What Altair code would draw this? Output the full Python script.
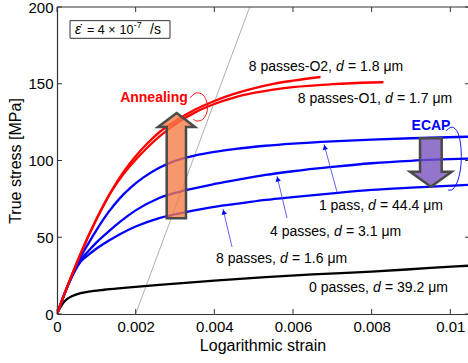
import altair as alt
import pandas as pd

FONT = "Liberation Sans"

# ---- stress-strain curves: logarithmic strain vs true stress [MPa] ----
STRAIN_0P = [0, 0.0001, 0.0002, 0.0003, 0.0005, 0.0008, 0.0012, 0.0017, 0.0026,
             0.004, 0.0053, 0.0065, 0.008, 0.0095, 0.0105]
STRESS_0P = [0, 5, 8.5, 10.5, 12.8, 14.5, 15.8, 17, 19,
             21.7, 24, 25.8, 27.6, 30, 31.5]

STRAIN_8P = [0, 0.0003, 0.0006, 0.0008, 0.001, 0.0013, 0.0016, 0.002, 0.0026,
             0.0033, 0.004, 0.0047, 0.0053, 0.006, 0.007, 0.008, 0.009, 0.0105]
STRESS_8P = [0, 20, 34, 38.5, 42.5, 47.5, 52, 57, 62.5,
             66.5, 69.8, 72.2, 74.3, 76.2, 78.6, 80.8, 82.3, 84.2]

STRAIN_4P = [0, 0.0003, 0.0006, 0.0008, 0.001, 0.0013, 0.0016, 0.002, 0.0026,
             0.0033, 0.004, 0.0047, 0.0053, 0.006, 0.007, 0.008, 0.009, 0.0105]
STRESS_4P = [0, 20, 35, 41, 46.5, 53.5, 60, 67.5, 75.6,
             80.8, 84.7, 88, 90.6, 93, 95.8, 98.2, 99.8, 101.2]

STRAIN_1P = [0, 0.0003, 0.0006, 0.0008, 0.001, 0.0013, 0.0016, 0.0019, 0.0022,
             0.0026, 0.003, 0.0035, 0.004, 0.0045, 0.0053, 0.006, 0.007, 0.008,
             0.009, 0.0105]
STRESS_1P = [0, 20, 37, 46, 54.5, 66, 75.5, 83, 89,
             95.3, 99.8, 103.2, 105.6, 107.4, 109.6, 111, 112.5, 113.6,
             114.5, 115.5]

STRAIN_O1 = [0, 0.0003, 0.0006, 0.001, 0.0014, 0.0017, 0.002, 0.0023, 0.0026,
             0.003, 0.0035, 0.004, 0.0045, 0.005, 0.0055, 0.006, 0.007, 0.008, 0.0083]
STRESS_O1 = [0, 20.4, 39.3, 61.5, 80.5, 91.5, 100.5, 108.5, 115.5,
             123.5, 131.2, 136.8, 141, 144, 146.2, 147.8, 149.7, 150.8, 151]

STRAIN_O2 = [0, 0.0003, 0.0006, 0.001, 0.0014, 0.0017, 0.002, 0.0023, 0.0026,
             0.003, 0.0035, 0.004, 0.0045, 0.005, 0.0055, 0.006, 0.0067]
STRESS_O2 = [0, 20.4, 39.3, 61.7, 80.9, 92.9, 102.8, 111.2, 118.4,
             125.5, 133, 138.8, 143.4, 147, 149.9, 152, 154.4]

SERIES_NAMES = ["0 passes", "8 passes", "4 passes", "1 pass",
                "8 passes-O1", "8 passes-O2"]
SERIES_COLORS = ["#000000", "#0000ff", "#0000ff", "#0000ff", "#ff0000", "#ff0000"]
SERIES_DATA = [(STRAIN_0P, STRESS_0P), (STRAIN_8P, STRESS_8P),
               (STRAIN_4P, STRESS_4P), (STRAIN_1P, STRESS_1P),
               (STRAIN_O1, STRESS_O1), (STRAIN_O2, STRESS_O2)]

# ---- curve labels, split around the italic "d" ----
LABEL_PREFIX = ["8 passes-O2,", "8 passes-O1,", "1 pass,", "4 passes,",
                "8 passes,", "0 passes,"]
LABEL_SUFFIX = ["= 1.8 μm", "= 1.7 μm", "= 44.4 μm", "= 3.1 μm",
                "= 1.6 μm", "= 39.2 μm"]
LABEL_X = [0.007094, 0.00834, 0.007908, 0.007043, 0.00567, 0.008035]
LABEL_Y = [160.6, 140.1, 70.4, 53.1, 35.8, 16.9]

# pointer lines from the labels to the ECAP curves
PTR_TIP_X = [0.006789, 0.005594, 0.004221]
PTR_TIP_Y = [110.7, 89.9, 68.4]
PTR_TAIL_X = [0.007119, 0.005848, 0.00445]
PTR_TAIL_Y = [79.5, 62.5, 43.6]
PTR_HEAD_X = [0.006809, 0.005611, 0.004239]
PTR_HEAD_Y = [108.6, 87.9, 66.4]

# loops grouping the annealed and the ECAP curves
ANNEAL_LOOP_X = [0.003382, 0.003534, 0.003712, 0.003814, 0.003814, 0.003712, 0.00356, 0.003458]
ANNEAL_LOOP_Y = [140.7, 144.0, 142.7, 137.5, 131.6, 127.0, 125.7, 127.0]
ECAP_LOOP_X = [0.009891, 0.010043, 0.010196, 0.010272, 0.010272, 0.010196, 0.010069, 0.009942]
ECAP_LOOP_Y = [119.2, 121.8, 117.9, 108.1, 97.1, 87.3, 81.4, 80.8]

# block arrows (rows of y with left/right x extents)
ANNEAL_ARROW_Y = [62.3, 121.8, 121.81, 130.9]
ANNEAL_ARROW_XL = [0.002789, 0.002789, 0.002568, 0.003043]
ANNEAL_ARROW_XR = [0.00328, 0.00328, 0.003509, 0.003043]
ECAP_ARROW_Y = [82.9, 92.7, 92.71, 114.5]
ECAP_ARROW_XL = [0.009509, 0.008975, 0.00923, 0.00923]
ECAP_ARROW_XR = [0.009509, 0.010036, 0.009781, 0.009781]

# 0.2 % offset line
OFFSET_X = [0.002, 0.0049]
OFFSET_Y = [0, 200]

# strain-rate note: pieces, their left edges and sizes
RATE_TEXT = ["= 4 ×", "10", "-7", "/s"]
RATE_X = [0.000763, 0.00159, 0.00195, 0.002365]
RATE_SIZE = [12.5, 12.5, 9, 14]
RATE_DY = [0, 0, -5, 0]
RATE_Y = 185.3
RATE_BOX_X = [0.000331, 0.002873]
RATE_BOX_Y = [191.1, 179.6]

X_TICKS = [0, 0.002, 0.004, 0.006, 0.008, 0.01]
Y_TICKS = [0, 50, 100, 150, 200]
X_MAX = 0.01045
Y_MAX = 200

W, H = 411, 307

xs = alt.Scale(domain=[0, X_MAX], nice=False, zero=False)
ys = alt.Scale(domain=[0, Y_MAX], nice=False, zero=False)

rows = []
for name, (sx, sy) in zip(SERIES_NAMES, SERIES_DATA):
    for i, (a, b) in enumerate(zip(sx, sy)):
        rows.append({"series": name, "strain": a, "stress": b, "i": i})
curves_df = pd.DataFrame(rows)

x_axis = alt.Axis(values=X_TICKS, format="~g", title="Logarithmic strain",
                  ticks=False, grid=False, labelFlush=False, labelPadding=5,
                  titlePadding=3)
y_axis = alt.Axis(values=Y_TICKS, title="True stress [MPa]", ticks=False,
                  grid=False, labelPadding=4, titlePadding=4)

offset_line = alt.Chart(pd.DataFrame({"x": OFFSET_X, "y": OFFSET_Y})).mark_line(
    color="#9a9a9a", strokeWidth=0.8, clip=True
).encode(x=alt.X("x:Q", scale=xs, axis=x_axis), y=alt.Y("y:Q", scale=ys, axis=y_axis))

curves = alt.Chart(curves_df).mark_line(
    strokeWidth=2.3, interpolate="monotone", clip=True
).encode(
    x=alt.X("strain:Q", scale=xs),
    y=alt.Y("stress:Q", scale=ys),
    color=alt.Color("series:N", scale=alt.Scale(domain=SERIES_NAMES, range=SERIES_COLORS),
                    legend=None),
    detail="series:N",
    order="i:Q",
)

ptr_df = pd.DataFrame({"x": PTR_TIP_X, "y": PTR_TIP_Y, "x2": PTR_TAIL_X, "y2": PTR_TAIL_Y})
pointers = alt.Chart(ptr_df).mark_rule(color="#3a3aff", strokeWidth=0.8).encode(
    x=alt.X("x:Q", scale=xs), y=alt.Y("y:Q", scale=ys), x2="x2:Q", y2="y2:Q")

heads = alt.Chart(pd.DataFrame({"x": PTR_HEAD_X, "y": PTR_HEAD_Y})).mark_point(
    shape="triangle-up", filled=True, color="#0000ff", size=30, angle=346, opacity=1
).encode(x=alt.X("x:Q", scale=xs), y=alt.Y("y:Q", scale=ys))


def loop(xv, yv, color):
    df = pd.DataFrame({"x": xv, "y": yv, "i": list(range(len(xv)))})
    return alt.Chart(df).mark_line(color=color, strokeWidth=0.9, interpolate="cardinal",
                                   clip=False).encode(
        x=alt.X("x:Q", scale=xs), y=alt.Y("y:Q", scale=ys), order="i:Q")


anneal_loop = loop(ANNEAL_LOOP_X, ANNEAL_LOOP_Y, "#ff0000")
ecap_loop = loop(ECAP_LOOP_X, ECAP_LOOP_Y, "#0000ff")


def block_arrow(yv, xl, xr, fill):
    df = pd.DataFrame({"y": yv, "xl": xl, "xr": xr})
    return alt.Chart(df).mark_area(
        orient="horizontal", fill=fill, fillOpacity=0.78, stroke="#4a4a4a",
        strokeWidth=2.5, strokeJoin="miter"
    ).encode(y=alt.Y("y:Q", scale=ys), x=alt.X("xl:Q", scale=xs), x2="xr:Q")


anneal_arrow = block_arrow(ANNEAL_ARROW_Y, ANNEAL_ARROW_XL, ANNEAL_ARROW_XR, "#f57a42")
ecap_arrow = block_arrow(ECAP_ARROW_Y, ECAP_ARROW_XL, ECAP_ARROW_XR, "#7450bd")

lab_df = pd.DataFrame({"x": LABEL_X, "y": LABEL_Y, "pre": LABEL_PREFIX, "suf": LABEL_SUFFIX})
lab_base = alt.Chart(lab_df).encode(x=alt.X("x:Q", scale=xs), y=alt.Y("y:Q", scale=ys))
lab_pre = lab_base.mark_text(align="right", baseline="middle", dx=-4, fontSize=14,
                             font=FONT, color="black").encode(text="pre:N")
lab_d = lab_base.mark_text(align="left", baseline="middle", fontSize=14, font=FONT,
                           fontStyle="italic", color="black", text="d")
lab_suf = lab_base.mark_text(align="left", baseline="middle", dx=12, fontSize=14,
                             font=FONT, color="black").encode(text="suf:N")

words = pd.DataFrame({"x": [0.002466, 0.009509], "y": [141.0, 122.3],
                      "t": ["Annealing", "ECAP"], "c": ["#ff0000", "#0000ff"]})
word_marks = alt.Chart(words).mark_text(fontSize=14, fontWeight="bold", font=FONT,
                                        baseline="middle").encode(
    x=alt.X("x:Q", scale=xs), y=alt.Y("y:Q", scale=ys), text="t:N",
    color=alt.Color("c:N", scale=None))

# strain-rate box
box = alt.Chart(pd.DataFrame({"x": [RATE_BOX_X[0]], "x2": [RATE_BOX_X[1]],
                              "y": [RATE_BOX_Y[0]], "y2": [RATE_BOX_Y[1]]})).mark_rect(
    fill=None, stroke="#333333", strokeWidth=1
).encode(x=alt.X("x:Q", scale=xs), x2="x2:Q", y=alt.Y("y:Q", scale=ys), y2="y2:Q")
rate_eps = alt.Chart(pd.DataFrame({"x": [0.000458], "y": [RATE_Y], "t": ["ε̇"]})).mark_text(
    align="left", baseline="middle", fontSize=14, font=FONT, fontStyle="italic").encode(
    x=alt.X("x:Q", scale=xs), y=alt.Y("y:Q", scale=ys), text="t:N")
rate_parts = []
for t, xv, fs, dy in zip(RATE_TEXT, RATE_X, RATE_SIZE, RATE_DY):
    rate_parts.append(
        alt.Chart(pd.DataFrame({"x": [xv], "y": [RATE_Y], "t": [t]})).mark_text(
            align="left", baseline="middle", fontSize=fs, dy=dy, font=FONT).encode(
            x=alt.X("x:Q", scale=xs), y=alt.Y("y:Q", scale=ys), text="t:N"))

# frame: top border and inward ticks on all sides
FRAME = "#333333"
top_border = alt.Chart(pd.DataFrame({"a": [0]})).mark_rule(color=FRAME, strokeWidth=1.2).encode(
    x=alt.value(0), x2=alt.value(W), y=alt.value(0))
xt = alt.Chart(pd.DataFrame({"v": X_TICKS}))
yt = alt.Chart(pd.DataFrame({"v": Y_TICKS}))
tick_b = xt.mark_rule(color=FRAME, strokeWidth=1).encode(
    x=alt.X("v:Q", scale=xs), y=alt.value(H), y2=alt.value(H - 5))
tick_t = xt.mark_rule(color=FRAME, strokeWidth=1).encode(
    x=alt.X("v:Q", scale=xs), y=alt.value(0), y2=alt.value(5))
tick_l = yt.mark_rule(color=FRAME, strokeWidth=1).encode(
    y=alt.Y("v:Q", scale=ys), x=alt.value(0), x2=alt.value(5))
tick_r = yt.mark_rule(color=FRAME, strokeWidth=1).encode(
    y=alt.Y("v:Q", scale=ys), x=alt.value(W), x2=alt.value(W - 3))

chart = alt.layer(
    offset_line, curves, pointers, heads, anneal_loop, ecap_loop,
    anneal_arrow, ecap_arrow, lab_pre, lab_d, lab_suf, word_marks,
    box, rate_eps, *rate_parts,
    top_border, tick_b, tick_t, tick_l, tick_r,
).properties(
    width=W, height=H, autosize=alt.AutoSizeParams(type="none"),
    padding={"left": 57, "top": 7, "right": 0, "bottom": 49},
    background="white",
).configure_view(stroke=None).configure_axis(
    domainColor=FRAME, domainWidth=1.2, labelFont=FONT, titleFont=FONT,
    labelFontSize=15, titleFontSize=16, labelColor="black", titleColor="black",
    titleFontWeight="normal",
)

chart.save("out.html", embed_options={"renderer": "svg", "actions": False})
